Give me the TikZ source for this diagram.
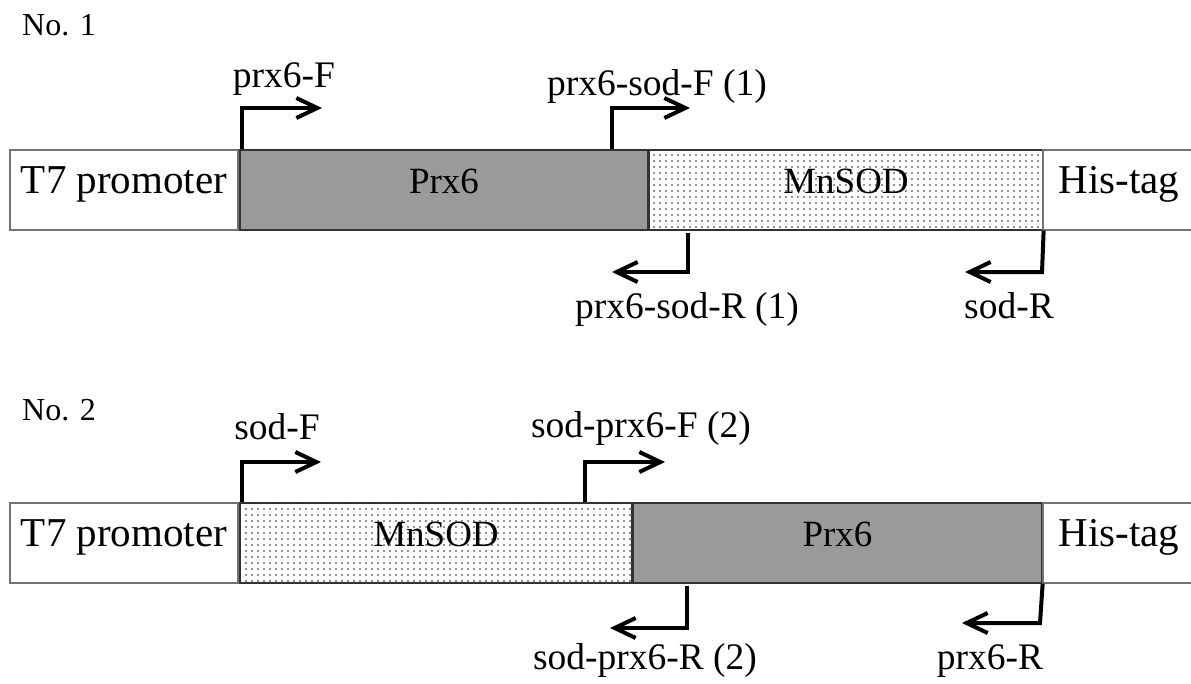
\documentclass[tikz,border=0pt]{standalone}
\usepackage{fontspec}
\setmainfont{Liberation Serif}
\usetikzlibrary{arrows.meta,patterns.meta}
\definecolor{prxgray}{HTML}{9A9A9A}
\tikzset{
  box/.style={draw=black!70, line width=1.3pt, minimum height=80pt, inner sep=0pt,
    text height=0.66em, text depth=0pt, font=\fontsize{41}{44}\selectfont},
  whitebox/.style={box, fill=white, draw=black!55},
  prxbox/.style={box, fill=prxgray, draw=black!80, font=\fontsize{37}{40}\selectfont},
  sodbox/.style={box, fill=white, draw=black!80, font=\fontsize{37}{40}\selectfont,
    postaction={pattern={Dots[distance=6pt,radius=0.95pt]}, pattern color=black!85}},
  primer/.style={line width=4pt, -{Straight Barb[length=21pt,width=20pt,line width=4pt]}},
  lab/.style={anchor=base, inner sep=0pt, font=\fontsize{37.5}{40}\selectfont},
  numlab/.style={anchor=base west, inner sep=0pt, font=\fontsize{32}{36}\selectfont},
}
\begin{document}
\begin{tikzpicture}[x=1pt,y=-1pt]
\useasboundingbox (0,0) rectangle (1191,683);
% ---------- No. 1 ----------
\node[numlab] (no1) at (22,35) {No. 1};
\node[whitebox, minimum width=228pt] (t7a) at (124,190) {T7 promoter};
\node[prxbox, minimum width=408pt] (prx6a) at (444,190) {Prx6};
\node[sodbox, minimum width=394pt] (soda) at (846,190) {MnSOD};
\node[whitebox, minimum width=152pt] (hisa) at (1119,190) {His-tag};
% forward primers
\coordinate (fa1c) at (242,108); \coordinate (fa1t) at (322,108);
\draw[primer] (prx6a.north -| fa1c) -- (fa1c) -- (fa1t);
\node[lab] (la1) at (284,87) {prx6-F};
\coordinate (fa2c) at (612,108); \coordinate (fa2t) at (690,108);
\draw[primer] (prx6a.north -| fa2c) -- (fa2c) -- (fa2t);
\node[lab] (la2) at (657,95) {prx6-sod-F (1)};
% reverse primers
\coordinate (ra1c) at (688,272); \coordinate (ra1t) at (612,272);
\draw[primer] (688,233) -- (ra1c) -- (ra1t);
\node[lab] (la3) at (687,318) {prx6-sod-R (1)};
\coordinate (ra2c) at (1042,272); \coordinate (ra2t) at (965,272);
\draw[primer] (soda.south east) -- (ra2c) -- (ra2t);
\node[lab] (la4) at (1009,318) {sod-R};
% ---------- No. 2 ----------
\node[numlab] (no2) at (22,420) {No. 2};
\node[whitebox, minimum width=228pt] (t7b) at (124,543) {T7 promoter};
\node[sodbox, minimum width=392pt] (sodb) at (436,543) {MnSOD};
\node[prxbox, minimum width=409pt] (prx6b) at (837.5,543) {Prx6};
\node[whitebox, minimum width=152pt] (hisb) at (1119,543) {His-tag};
% forward primers
\coordinate (fb1c) at (242,462); \coordinate (fb1t) at (321,462);
\draw[primer] (sodb.north -| fb1c) -- (fb1c) -- (fb1t);
\node[lab] (lb1) at (277,439) {sod-F};
\coordinate (fb2c) at (585,462); \coordinate (fb2t) at (665,462);
\draw[primer] (sodb.north -| fb2c) -- (fb2c) -- (fb2t);
\node[lab] (lb2) at (641,437) {sod-prx6-F (2)};
% reverse primers
\coordinate (rb1c) at (687,628); \coordinate (rb1t) at (610,628);
\draw[primer] (687,586) -- (rb1c) -- (rb1t);
\node[lab] (lb3) at (645,669) {sod-prx6-R (2)};
\coordinate (rb2c) at (1040,623); \coordinate (rb2t) at (962,623);
\draw[primer] (prx6b.south east) -- (rb2c) -- (rb2t);
\node[lab] (lb4) at (990,669) {prx6-R};
\end{tikzpicture}
\end{document}
